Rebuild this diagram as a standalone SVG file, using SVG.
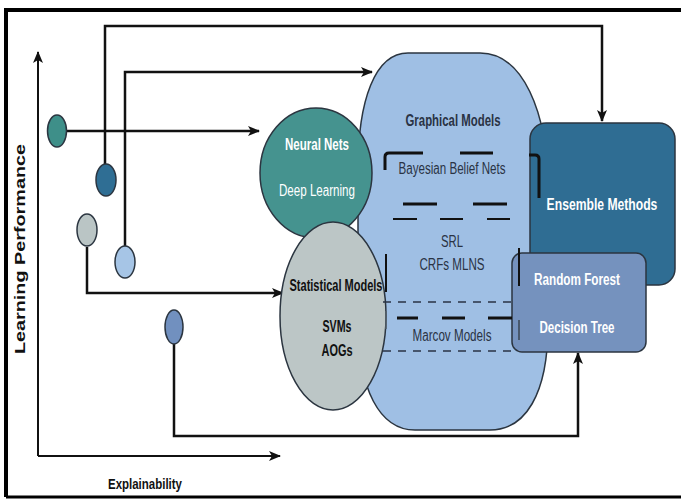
<svg xmlns="http://www.w3.org/2000/svg" width="681" height="500" viewBox="0 0 681 500">
<style>
.ln{fill:none;stroke:#111;stroke-width:2.5}
.ax{fill:none;stroke:#111;stroke-width:2}
.node{stroke:#2b3540;stroke-width:1.5}
.t{font-family:"Liberation Sans",Arial,sans-serif;text-anchor:middle}
.b{font-weight:bold}
.w{fill:#ffffff}
.d{fill:#2a3344}
.k{fill:#111}
.deco{fill:none;stroke:#111;stroke-width:3}
.deco2{fill:none;stroke:#111;stroke-width:2}
.dash{fill:none;stroke:#2a3344;stroke-width:1.5;stroke-dasharray:8 7}
</style>
<defs>
<marker id="ah" viewBox="0 0 12 10" refX="11" refY="5" markerWidth="12" markerHeight="10" markerUnits="userSpaceOnUse" orient="auto">
<path d="M0,0 L12,5 L0,10 L3,5 Z" fill="#111"/>
</marker>
</defs>
<rect x="0" y="0" width="681" height="500" fill="#ffffff"/>
<g id="frame">
<path d="M6,497 L6,10 L681,10" fill="none" stroke="#000" stroke-width="4"/>
<path d="M6,497 L681,497" fill="none" stroke="#000" stroke-width="3"/>
</g>
<g id="axes">
<path class="ax" d="M38,456 L38,52" marker-end="url(#ah)"/>
<path class="ax" d="M38,456 L280,456" marker-end="url(#ah)"/>
<text class="t b k" x="0" y="0" font-size="14" textLength="210" lengthAdjust="spacingAndGlyphs" transform="translate(25,249) rotate(-90)">Learning Performance</text>
<text class="t b k" x="145" y="489" font-size="15" textLength="74" lengthAdjust="spacingAndGlyphs">Explainability</text>
</g>
<g id="connectors">
<path class="ln" d="M105,164 L105,26 L602,26 L602,121" marker-end="url(#ah)"/>
<path class="ln" d="M125,246 L125,72 L372,72" marker-end="url(#ah)"/>
<path class="ln" d="M66,131 L259,131" marker-end="url(#ah)"/>
<path class="ln" d="M87,247 L87,293 L283,293" marker-end="url(#ah)"/>
<path class="ln" d="M174,344 L174,436 L578,436 L578,353" marker-end="url(#ah)"/>
</g>
<g id="graphical-models">
<path class="node" fill="#9fbfe4" d="M408,53 L480,53 C522,53 548,110 548,190 L548,325 C548,395 525,430 490,430 L415,430 C380,430 358,390 358,320 L358,170 C358,100 375,53 408,53 Z"/>
<text class="t b d" x="453" y="126" font-size="16" textLength="95" lengthAdjust="spacingAndGlyphs">Graphical Models</text>
<text class="t d" x="452" y="174" font-size="16" textLength="107" lengthAdjust="spacingAndGlyphs">Bayesian Belief Nets</text>
<text class="t d" x="452" y="247" font-size="16" textLength="22" lengthAdjust="spacingAndGlyphs">SRL</text>
<text class="t d" x="452" y="270" font-size="16" textLength="65" lengthAdjust="spacingAndGlyphs">CRFs MLNS</text>
<text class="t d" x="452" y="341" font-size="16" textLength="79" lengthAdjust="spacingAndGlyphs">Marcov Models</text>
</g>
<g id="ensemble-methods">
<rect class="node" fill="#2f6d93" x="530" y="123" width="145" height="162" rx="16"/>
<text class="t b w" x="0" y="0" font-size="16" transform="translate(602,210) scale(0.76,1)">Ensemble Methods</text>
</g>
<g id="random-forest">
<rect class="node" fill="#7592be" x="512" y="253" width="134" height="99" rx="10"/>
<text class="t b w" x="577" y="285" font-size="16" textLength="86" lengthAdjust="spacingAndGlyphs">Random Forest</text>
<text class="t b w" x="577" y="333" font-size="16" textLength="75" lengthAdjust="spacingAndGlyphs">Decision Tree</text>
</g>
<g id="neural-nets">
<ellipse class="node" fill="#45938f" cx="316" cy="173" rx="56" ry="65"/>
<text class="t b w" x="317" y="150" font-size="16" textLength="64" lengthAdjust="spacingAndGlyphs">Neural Nets</text>
<text class="t w" x="317" y="196" font-size="16" textLength="76" lengthAdjust="spacingAndGlyphs">Deep Learning</text>
</g>
<g id="statistical-models">
<ellipse class="node" fill="#bcc6c6" cx="333" cy="316" rx="53" ry="94"/>
<text class="t b k" x="336" y="291" font-size="16" textLength="93" lengthAdjust="spacingAndGlyphs">Statistical Models</text>
<text class="t b k" x="337" y="332" font-size="16" textLength="29" lengthAdjust="spacingAndGlyphs">SVMs</text>
<text class="t b k" x="337" y="356" font-size="16" textLength="31" lengthAdjust="spacingAndGlyphs">AOGs</text>
</g>
<g id="decorations">
<path class="deco" d="M385,170 L385,157 Q385,153 389,153 L423,153"/>
<path class="deco" d="M460,153 L493,153"/>
<path class="deco" d="M403,204 L437,204 M473,204 L507,204"/>
<path class="deco2" d="M393,219 L417,219 M440,219 L463,219 M487,219 L510,219"/>
<path class="deco2" d="M386,254 L386,292"/>
<path class="dash" d="M383,302 L517,302"/>
<path class="deco" d="M397,318 L418,318 M442,318 L465,318 M488,318 L512,318"/>
<path fill="none" stroke="#55606a" stroke-width="1.5" d="M386,311 L386,329"/>
<path class="dash" d="M383,351 L514,351"/>
<path class="deco2" d="M519,248 L519,286"/>
<path fill="none" stroke="#3a4552" stroke-width="1.5" d="M519,320 L519,340"/>
<path class="deco" d="M529,155 L535,155 Q539,155 539,159 L539,198"/>
</g>
<g id="markers">
<ellipse class="node" fill="#3e8f89" cx="57" cy="131" rx="9.5" ry="16"/>
<ellipse class="node" fill="#2f6e94" cx="106" cy="180" rx="10" ry="16"/>
<ellipse class="node" fill="#bac5c5" cx="87" cy="230" rx="10" ry="16"/>
<ellipse class="node" fill="#a6c5e6" cx="125" cy="262" rx="10" ry="16"/>
<ellipse class="node" fill="#7190bf" cx="174" cy="327" rx="9" ry="17"/>
</g>
</svg>
